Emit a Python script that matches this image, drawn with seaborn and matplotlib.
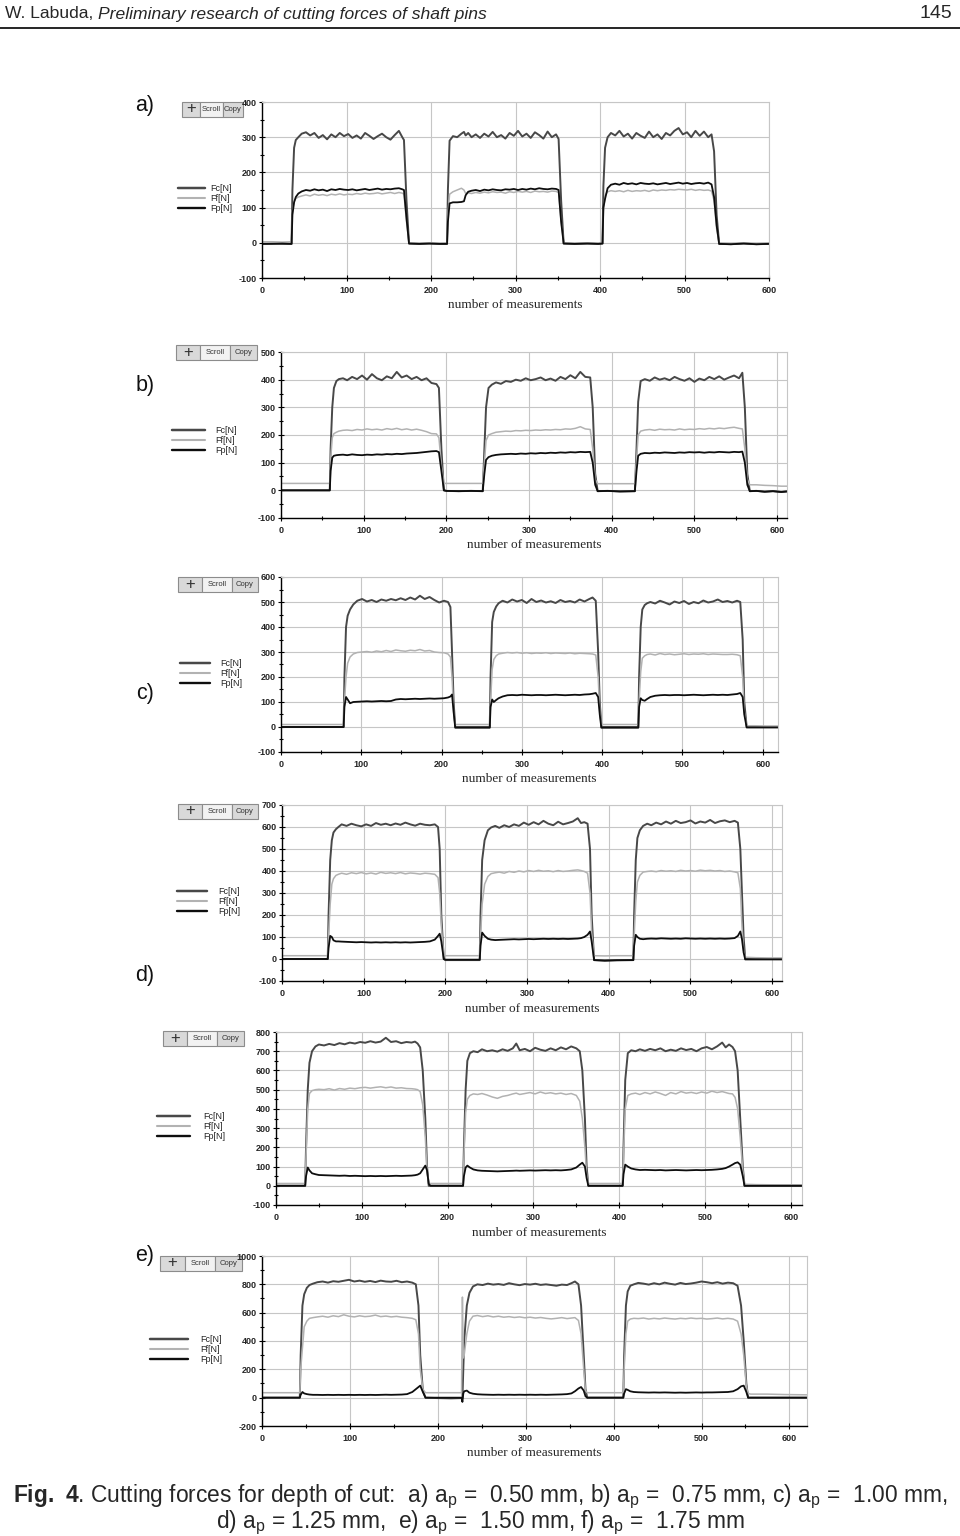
# Cutting forces Fc, Ff, Fp for six depths of cut (Fig. 4, Labuda)

import pandas as pd
import numpy as np
import matplotlib
matplotlib.use('Agg')
from matplotlib import pyplot as plt
from matplotlib import font_manager
from matplotlib.patches import Rectangle
from matplotlib.lines import Line2D
import seaborn as sns

series_names = ['Fc[N]', 'Ff[N]', 'Fp[N]']

# (a) ap = 0.50 mm
a_x = [0, 12, 24, 35, 36, 38, 40, 43, 47, 52,
       57, 62, 67, 72, 77, 82, 87, 92, 97, 102,
       107, 112, 117, 122, 127, 132, 137, 142, 147, 152,
       157, 162, 166, 168, 171, 174, 186, 198, 210, 219,
       220, 222, 226, 231, 236, 239, 241, 244, 248, 253,
       258, 263, 268, 273, 278, 283, 288, 293, 298, 303,
       308, 313, 318, 323, 328, 333, 338, 343, 348, 351,
       354, 357, 370, 385, 398, 403, 404, 406, 409, 413,
       418, 423, 428, 433, 438, 443, 448, 453, 458, 463,
       468, 473, 478, 483, 488, 493, 498, 503, 508, 513,
       518, 523, 528, 532, 535, 538, 541, 555, 570, 585,
       600]
a_fc = [-3, -2, -3, -3, 150, 270, 292, 300, 310, 314,
        305, 312, 298, 306, 294, 308, 300, 312, 303, 309,
        298, 305, 296, 312, 304, 295, 303, 310, 300, 293,
        306, 318, 300, 292, 120, -2, -3, -2, -3, -3,
        150, 290, 303, 300, 310, 315, 305, 312, 300, 308,
        298, 310, 302, 315, 300, 306, 296, 312, 304, 318,
        302, 310, 298, 314, 306, 296, 316, 300, 308, 295,
        120, -2, -3, -2, -3, -2, 160, 270, 300, 312,
        305, 318, 302, 310, 296, 312, 304, 298, 316, 300,
        308, 295, 312, 305, 318, 326, 308, 314, 300, 318,
        304, 316, 300, 308, 260, 80, -3, -4, -2, -4,
        -3]
a_ff = [3, 3, 2, 3, 90, 118, 126, 130, 133, 136,
        133, 138, 135, 137, 134, 138, 136, 139, 136, 138,
        137, 140, 138, 141, 139, 140, 142, 139, 141, 143,
        140, 143, 141, 138, 60, 0, -1, 0, -1, 0,
        80, 138, 145, 150, 155, 150, 140, 142, 140, 143,
        141, 144, 142, 145, 143, 144, 141, 145, 143, 146,
        144, 146, 143, 147, 145, 146, 144, 147, 146, 143,
        60, 0, -1, 0, -1, 0, 90, 135, 145, 148,
        146, 148, 145, 149, 146, 148, 147, 149, 146, 150,
        148, 150, 149, 151, 150, 152, 151, 150, 152, 149,
        151, 149, 150, 147, 120, 40, 0, -1, 0, -1,
        0]
a_fp = [-3, -3, -2, -3, 80, 115, 130, 140, 146, 150,
        148, 152, 149, 151, 147, 152, 150, 153, 151, 150,
        152, 149, 151, 153, 150, 152, 154, 151, 153, 152,
        154, 155, 152, 150, 70, -2, -3, -2, -3, -3,
        60, 112, 115, 115, 116, 118, 135, 145, 148, 150,
        147, 151, 149, 152, 150, 149, 152, 151, 153, 150,
        153, 151, 154, 152, 155, 153, 152, 154, 153, 150,
        60, -2, -3, -2, -3, -2, 100, 125, 155, 165,
        168, 165, 170, 167, 169, 166, 170, 168, 167, 169,
        166, 168, 170, 167, 169, 171, 168, 170, 167, 169,
        170, 168, 171, 166, 130, 50, -3, -4, -2, -4,
        -3]

# (b) ap = 0.75 mm
b_x = [0, 15, 30, 45, 59, 60, 62, 64, 67, 70,
       75, 80, 86, 92, 98, 104, 110, 116, 122, 128,
       134, 140, 146, 152, 158, 164, 170, 176, 182, 188,
       191, 194, 197, 200, 215, 230, 244, 246, 248, 251,
       255, 260, 266, 272, 278, 284, 290, 296, 302, 308,
       314, 320, 326, 332, 338, 344, 350, 356, 362, 368,
       374, 377, 380, 383, 395, 410, 428, 430, 432, 435,
       440, 446, 452, 458, 464, 470, 476, 482, 488, 494,
       500, 506, 512, 518, 524, 530, 536, 542, 548, 554,
       558, 561, 564, 567, 575, 585, 595, 605, 612]
b_fc = [0, 0, 0, 0, 0, 150, 300, 370, 395, 402,
        405, 398, 410, 402, 415, 400, 420, 405, 398, 412,
        405, 428, 408, 415, 402, 410, 398, 405, 388, 384,
        370, 150, 0, -2, -3, -2, -3, 150, 300, 370,
        382, 390, 385, 395, 392, 400, 396, 405, 398, 402,
        408, 398, 404, 396, 410, 402, 416, 405, 428, 410,
        408, 300, 60, -3, -2, -4, -3, 150, 320, 395,
        402, 396, 408, 400, 405, 398, 410, 402, 396, 405,
        392, 404, 398, 410, 402, 412, 400, 408, 415, 405,
        425, 300, 60, -3, -2, -5, -3, -6, -4]
b_ff = [25, 25, 25, 25, 25, 110, 190, 205, 210, 214,
        217, 218, 216, 220, 218, 222, 219, 221, 218, 223,
        220, 224, 219, 222, 218, 221, 217, 212, 205, 204,
        190, 90, 25, 25, 25, 25, 25, 100, 180, 200,
        205, 210, 212, 214, 213, 216, 215, 217, 216, 218,
        217, 219, 218, 220, 219, 222, 221, 224, 230, 222,
        220, 150, 40, 24, 24, 24, 24, 110, 200, 214,
        218, 220, 217, 221, 219, 220, 218, 222, 219, 221,
        220, 223, 221, 224, 222, 225, 223, 226, 228, 224,
        222, 150, 40, 20, 20, 18, 17, 15, 15]
b_fp = [0, 0, 0, 0, 0, 70, 118, 125, 127, 128,
        129, 127, 130, 128, 127, 129, 128, 130, 129, 131,
        130, 132, 131, 133, 134, 135, 137, 139, 141, 142,
        138, 70, 0, -2, -3, -2, -3, 60, 110, 120,
        125, 128, 130, 131, 132, 131, 133, 132, 134, 133,
        135, 134, 136, 135, 137, 136, 138, 137, 139, 138,
        139, 100, 20, -3, -2, -4, -3, 70, 125, 132,
        135, 134, 136, 135, 137, 136, 135, 137, 136, 138,
        137, 138, 136, 138, 137, 139, 138, 137, 139, 138,
        140, 100, 20, -3, -2, -5, -3, -6, -4]

# (c) ap = 1.00 mm
c_x = [0, 20, 40, 60, 78, 79, 81, 83, 86, 90,
       95, 101, 107, 113, 119, 125, 131, 137, 143, 149,
       155, 161, 167, 173, 179, 185, 191, 197, 203, 208,
       211, 213, 215, 217, 230, 245, 260, 261, 263, 265,
       268, 271, 276, 282, 288, 294, 300, 306, 312, 318,
       324, 330, 336, 342, 348, 354, 360, 366, 372, 378,
       384, 388, 392, 395, 397, 399, 410, 425, 445, 446,
       448, 450, 453, 456, 460, 466, 472, 478, 484, 490,
       496, 502, 508, 514, 520, 526, 532, 538, 544, 550,
       556, 562, 568, 572, 575, 577, 580, 590, 605, 619]
c_fc = [0, 0, 0, 0, 0, 200, 400, 445, 470, 490,
        505, 512, 502, 508, 500, 510, 505, 512, 507, 515,
        508, 518, 510, 525, 512, 520, 508, 498, 505, 500,
        480, 300, 100, 0, 0, 0, 0, 200, 420, 460,
        482, 495, 505, 498, 510, 502, 508, 496, 512, 500,
        506, 498, 503, 496, 508, 500, 504, 498, 510, 502,
        512, 518, 505, 300, 100, 0, 0, 0, 0, 200,
        400, 470, 488, 495, 500, 494, 505, 498, 490, 502,
        496, 504, 492, 500, 495, 506, 498, 502, 510, 500,
        504, 498, 505, 500, 350, 100, 0, 0, 0, 0]
c_ff = [10, 10, 10, 10, 10, 100, 200, 255, 280, 292,
        298, 300, 302, 299, 304, 301, 306, 302, 308, 305,
        303, 307, 305, 310, 304, 306, 300, 298, 297, 292,
        280, 200, 60, 10, 10, 10, 10, 100, 230, 270,
        285, 292, 295, 298, 296, 298, 295, 297, 294, 296,
        295, 297, 294, 296, 295, 294, 296, 293, 295, 294,
        293, 292, 288, 200, 60, 10, 10, 10, 10, 100,
        220, 275, 285, 290, 292, 288, 294, 290, 292, 289,
        291, 293, 290, 292, 291, 293, 290, 292, 291, 290,
        290, 291, 289, 285, 200, 60, 5, 5, 4, 4]
c_fp = [0, 0, 0, 0, 0, 80, 120, 110, 95, 100,
        101, 102, 103, 102, 103, 104, 103, 104, 110, 112,
        111, 112, 113, 112, 113, 114, 113, 114, 115, 118,
        122, 130, 60, -3, -3, -3, -3, 80, 110, 100,
        108, 115, 122, 127, 128, 127, 129, 128, 127, 128,
        128, 127, 128, 129, 128, 127, 128, 129, 128, 130,
        131, 133, 136, 120, 50, -3, -3, -3, -3, 80,
        115, 108, 105, 112, 120, 125, 127, 128, 127, 128,
        128, 127, 128, 129, 128, 127, 128, 129, 128, 129,
        128, 130, 132, 136, 120, 50, -2, -2, -2, -2]

# (d) ap = 1.25 mm
d_x = [0, 20, 40, 56, 57, 59, 61, 63, 66, 69,
       73, 79, 85, 91, 97, 103, 109, 115, 121, 127,
       133, 139, 145, 151, 157, 163, 169, 175, 181, 187,
       191, 193, 195, 198, 200, 215, 230, 242, 243, 245,
       248, 252, 256, 261, 266, 272, 278, 284, 290, 296,
       302, 308, 314, 320, 326, 332, 338, 344, 350, 356,
       362, 366, 370, 374, 377, 379, 382, 395, 410, 430,
       431, 433, 435, 438, 442, 447, 452, 458, 464, 470,
       476, 482, 488, 494, 500, 506, 512, 518, 524, 530,
       536, 542, 548, 554, 558, 561, 563, 565, 567, 580,
       595, 610, 619]
d_fc = [0, 0, 0, 0, 200, 450, 540, 575, 590, 600,
        612, 605, 615, 608, 603, 612, 605, 618, 610, 615,
        608, 616, 610, 620, 612, 606, 615, 610, 608, 612,
        600, 500, 200, 0, -5, -5, -5, -5, 200, 450,
        540, 585, 598, 605, 596, 608, 600, 612, 605, 620,
        610, 622, 612, 628, 615, 608, 624, 612, 618, 625,
        640, 618, 622, 615, 500, 200, -5, -6, -5, -5,
        200, 450, 550, 585, 605, 615, 608, 620, 612, 625,
        615, 628, 618, 622, 630, 616, 625, 620, 632, 618,
        626, 630, 622, 628, 620, 500, 300, 100, 0, 0,
        0, 0, 0]
d_ff = [15, 15, 15, 15, 100, 250, 340, 365, 380, 385,
        390, 385, 392, 388, 393, 387, 391, 386, 394, 389,
        392, 388, 393, 387, 391, 389, 386, 390, 388, 385,
        370, 300, 150, 15, 15, 15, 15, 15, 100, 250,
        340, 375, 388, 392, 395, 390, 398, 394, 400, 396,
        402, 398, 403, 399, 401, 397, 402, 398, 400, 403,
        405, 402, 398, 390, 300, 120, 15, 14, 15, 15,
        100, 260, 350, 380, 395, 398, 400, 397, 402, 399,
        401, 398, 403, 400, 402, 399, 404, 401, 403, 400,
        402, 398, 400, 396, 392, 320, 150, 40, 8, 6,
        5, 5, 5]
d_fp = [0, 0, 0, 0, 50, 105, 100, 85, 80, 80,
        79, 78, 77, 76, 77, 76, 75, 76, 75, 76,
        75, 76, 75, 76, 75, 76, 77, 78, 80, 88,
        105, 115, 80, 0, -3, -3, -3, -3, 60, 120,
        105, 92, 88, 86, 87, 88, 89, 90, 89, 90,
        91, 90, 91, 92, 91, 92, 91, 92, 91, 92,
        93, 95, 100, 110, 125, 80, -5, -8, -6, -5,
        60, 110, 100, 92, 90, 92, 93, 92, 94, 93,
        92, 93, 92, 94, 93, 92, 93, 92, 93, 92,
        93, 92, 93, 95, 105, 125, 90, 30, -2, -2,
        -2, -2, -2]

# (e) ap = 1.50 mm
e_x = [0, 15, 30, 34, 35, 37, 39, 42, 46, 50,
       56, 62, 68, 74, 80, 86, 92, 98, 104, 110,
       116, 122, 128, 134, 140, 146, 152, 158, 162, 165,
       168, 171, 174, 176, 178, 180, 195, 210, 218, 219,
       221, 223, 226, 230, 235, 240, 246, 252, 258, 264,
       270, 276, 280, 284, 290, 296, 302, 308, 314, 320,
       326, 332, 338, 344, 350, 354, 357, 360, 362, 364,
       380, 395, 404, 405, 407, 410, 414, 419, 424, 430,
       436, 442, 448, 454, 460, 466, 472, 478, 484, 490,
       496, 502, 508, 514, 520, 524, 528, 532, 535, 538,
       541, 544, 546, 560, 580, 600, 614]
e_fc = [0, 0, 0, 0, 200, 500, 640, 700, 725, 735,
        730, 738, 732, 742, 736, 745, 740, 748, 744, 752,
        745, 750, 770, 748, 752, 742, 748, 745, 750, 740,
        720, 600, 350, 100, 0, 0, 0, 0, 0, 200,
        500, 650, 690, 700, 695, 710, 700, 705, 698, 710,
        702, 715, 740, 705, 712, 700, 718, 708, 702, 715,
        705, 720, 710, 725, 715, 700, 600, 350, 100, 0,
        0, 0, 0, 200, 550, 690, 705, 700, 710, 702,
        712, 705, 715, 700, 708, 702, 715, 706, 712, 700,
        715, 722, 710, 725, 745, 720, 735, 722, 700, 600,
        350, 100, 0, 0, 0, 0, 0]
e_ff = [12, 12, 12, 12, 150, 400, 480, 495, 500, 502,
        500, 505, 498, 506, 502, 508, 505, 510, 512, 508,
        512, 515, 510, 514, 508, 510, 506, 505, 503, 500,
        490, 420, 250, 80, 12, 12, 12, 12, 12, 150,
        380, 450, 470, 478, 475, 480, 472, 462, 455, 465,
        470, 478, 482, 475, 480, 485, 478, 488, 480, 484,
        478, 482, 475, 480, 470, 440, 350, 200, 60, 12,
        12, 12, 12, 150, 400, 470, 478, 482, 475, 485,
        478, 488, 480, 470, 485, 478, 490, 482, 486, 480,
        488, 482, 492, 485, 490, 485, 480, 478, 460, 400,
        250, 80, 8, 6, 5, 5, 5]
e_fp = [0, 0, 0, 0, 50, 95, 80, 65, 60, 56,
        55, 54, 53, 52, 53, 51, 52, 51, 50, 51,
        50, 51, 50, 51, 52, 51, 52, 53, 55, 58,
        65, 85, 105, 80, 10, 0, 0, 0, 0, 50,
        95, 105, 95, 85, 80, 78, 77, 76, 75, 76,
        77, 78, 79, 78, 79, 80, 79, 80, 81, 80,
        81, 80, 82, 85, 95, 110, 120, 100, 40, 0,
        0, 0, 0, 60, 110, 100, 90, 85, 82, 83,
        82, 81, 82, 80, 81, 82, 81, 80, 81, 82,
        81, 82, 83, 85, 88, 92, 100, 110, 118, 122,
        110, 50, 0, 0, 0, 0, 0]

# (f) ap = 1.75 mm
f_x = [0, 15, 30, 43, 44, 46, 48, 51, 54, 58,
       63, 69, 75, 81, 87, 93, 99, 105, 111, 117,
       123, 129, 135, 141, 147, 153, 159, 165, 171, 175,
       178, 180, 183, 186, 200, 215, 227, 228, 229, 230,
       233, 236, 240, 245, 251, 257, 263, 269, 275, 281,
       287, 293, 299, 305, 311, 317, 323, 329, 335, 341,
       347, 352, 356, 360, 363, 366, 368, 370, 385, 400,
       411, 412, 414, 416, 419, 423, 428, 434, 440, 446,
       452, 458, 464, 470, 476, 482, 488, 494, 500, 506,
       512, 518, 524, 530, 536, 541, 545, 548, 551, 553,
       556, 575, 595, 620]
f_fc = [0, 0, 0, 0, 300, 650, 730, 775, 795, 805,
        815, 820, 812, 822, 818, 825, 832, 820, 826, 818,
        824, 816, 826, 820, 818, 825, 815, 820, 812, 800,
        650, 300, 50, 0, -3, -5, -3, -5, 200, 400,
        650, 740, 785, 800, 795, 805, 798, 802, 796, 808,
        800, 794, 802, 798, 804, 796, 800, 795, 790, 798,
        795, 808, 820, 800, 650, 300, 60, 0, 0, 0,
        0, 300, 650, 750, 790, 800, 810, 805, 798, 808,
        800, 812, 804, 798, 810, 802, 806, 812, 820, 815,
        808, 815, 805, 812, 808, 790, 650, 400, 100, 0,
        0, 0, 0, 0]
f_ff = [35, 35, 35, 35, 200, 350, 500, 540, 560, 565,
        570, 575, 568, 578, 572, 585, 575, 570, 578, 572,
        575, 583, 572, 576, 570, 574, 568, 565, 560, 550,
        450, 200, 60, 35, 35, 35, 35, 710, 280, 300,
        450, 540, 575, 580, 572, 578, 570, 575, 568, 572,
        566, 570, 564, 568, 562, 566, 560, 556, 560, 565,
        558, 562, 565, 545, 450, 200, 50, 35, 35, 35,
        35, 200, 450, 540, 555, 560, 558, 562, 555, 560,
        556, 562, 558, 555, 560, 557, 562, 558, 560, 555,
        558, 562, 556, 560, 555, 540, 450, 300, 80, 30,
        25, 25, 22, 20]
f_fp = [0, 0, 0, 0, 20, 40, 30, 25, 22, 20,
        20, 19, 20, 19, 20, 19, 20, 19, 20, 19,
        20, 19, 20, 21, 20, 21, 22, 25, 40, 60,
        75, 85, 40, 0, 0, 0, 0, -30, 30, 45,
        50, 35, 28, 24, 22, 21, 20, 21, 20, 21,
        20, 21, 20, 21, 20, 21, 20, 21, 22, 23,
        25, 30, 45, 65, 75, 50, 10, 0, 0, 0,
        0, 30, 60, 55, 45, 40, 38, 37, 36, 37,
        36, 37, 36, 35, 36, 35, 36, 37, 36, 37,
        37, 38, 39, 40, 45, 60, 80, 85, 40, 0,
        0, 0, 0, 0]

# Styling

sns.set_style('white')
names = {f.name for f in font_manager.fontManager.ttflist}
narrow = 'Liberation Sans Narrow' if 'Liberation Sans Narrow' in names else 'Liberation Sans'
plt.rcParams['font.family'] = ['Liberation Sans', 'DejaVu Sans']
plt.rcParams['mathtext.fontset'] = 'custom'
plt.rcParams['mathtext.rm'] = narrow
plt.rcParams['mathtext.bf'] = narrow + ':bold'

W, H = 960, 1536
fig = plt.figure(figsize=(9.6, 15.36), dpi=100)

palette = {'Fc[N]': '#484848', 'Ff[N]': '#b2b2b2', 'Fp[N]': '#0e0e0e'}
lws = {'Fc[N]': 1.4, 'Ff[N]': 1.1, 'Fp[N]': 1.3}


def rect(l, t, r, b):
    return [l / W, 1 - b / H, (r - l) / W, (b - t) / H]


def long_df(x, fc, ff, fp):
    return pd.DataFrame({'x': x * 3,
                         'F': fc + ff + fp,
                         'series': ['Fc[N]'] * len(fc) + ['Ff[N]'] * len(ff) + ['Fp[N]'] * len(fp)})


# Page decorations go on a full-page layer underneath the plots
over = fig.add_axes([0, 0, 1, 1], zorder=-1)
over.set_xlim(0, W)
over.set_ylim(H, 0)
over.axis('off')
over.patch.set_alpha(0)

# box = axes pixels (left, top, right, bottom), buttons = (left, top, width),
# legend = (line x0, line x1, text x, first row y)
panels = [
    dict(data=(a_x, a_fc, a_ff, a_fp), box=(262, 102, 769, 278), xmax=600, ylim=(-100, 400), ystep=100,
         buttons=(182, 102, 61), legend=(178, 205, 210, 190)),
    dict(data=(b_x, b_fc, b_ff, b_fp), box=(281, 352, 787, 518), xmax=612, ylim=(-100, 500), ystep=100,
         buttons=(176, 345, 81), legend=(172, 205, 215, 432)),
    dict(data=(c_x, c_fc, c_ff, c_fp), box=(281, 577, 778, 752), xmax=619, ylim=(-100, 600), ystep=100,
         buttons=(178, 577, 80), legend=(180, 210, 220, 665)),
    dict(data=(d_x, d_fc, d_ff, d_fp), box=(282, 805, 782, 981), xmax=612, ylim=(-100, 700), ystep=100,
         buttons=(178, 804, 80), legend=(177, 207, 218, 893)),
    dict(data=(e_x, e_fc, e_ff, e_fp), box=(276, 1032, 802, 1205), xmax=613, ylim=(-100, 800), ystep=100,
         buttons=(163, 1031, 81), legend=(157, 190, 203, 1118)),
    dict(data=(f_x, f_fc, f_ff, f_fp), box=(262, 1256, 807, 1426), xmax=620, ylim=(-200, 1000), ystep=200,
         buttons=(160, 1256, 82), legend=(150, 188, 200, 1341)),
]

for p in panels:
    ax = fig.add_axes(rect(*p['box']))
    df = long_df(*p['data'])
    sns.lineplot(data=df, x='x', y='F', hue='series', hue_order=series_names, palette=palette,
                 estimator=None, sort=False, legend=False, ax=ax)
    for line, s in zip(ax.lines, series_names):
        line.set_linewidth(lws[s])
    ax.set_xlim(0, p['xmax'])
    ax.set_ylim(*p['ylim'])
    xt = list(range(0, 601, 100))
    ax.set_xticks(xt, labels=[str(v) for v in xt], fontsize=6.5, fontweight='bold')
    ax.set_xticks(list(range(50, 601, 100)), minor=True)
    yt = list(range(p['ylim'][0], p['ylim'][1] + 1, p['ystep']))
    ax.set_yticks(yt, labels=[str(v) for v in yt], fontsize=6.5, fontweight='bold')
    ax.set_yticks(list(range(p['ylim'][0] + p['ystep'] // 2, p['ylim'][1], p['ystep'])), minor=True)
    ax.grid(True, which='major', color='#c6c6c6', lw=0.8)
    ax.set_axisbelow(True)
    for side in ['left', 'bottom']:
        ax.spines[side].set_color('black')
        ax.spines[side].set_linewidth(1.0)
    for side in ['top', 'right']:
        ax.spines[side].set_color('#c6c6c6')
        ax.spines[side].set_linewidth(0.8)
    ax.tick_params(which='both', bottom=True, left=True, direction='inout', width=0.8, color='black')
    ax.tick_params(axis='x', which='major', length=4, pad=4)
    ax.tick_params(axis='y', which='major', length=4, pad=2)
    ax.tick_params(which='minor', length=3)
    ax.set_xlabel('number of measurements', family='Liberation Serif', fontsize=9.5, labelpad=3)
    ax.set_ylabel('')

    # legend to the left of the plot
    x0, x1, tx, ty = p['legend']
    handles = [Line2D([], [], color=palette[s], lw=lws[s] + 0.4) for s in series_names]
    fs_px = 6.5 * 100 / 72
    ax.legend(handles, series_names, loc='upper left', frameon=False,
              bbox_to_anchor=(x0 / W, 1 - (ty - 6) / H), bbox_transform=fig.transFigure,
              fontsize=6.5, handlelength=(x1 - x0) / fs_px, handletextpad=(tx - x1) / fs_px,
              labelspacing=0.1, borderpad=0, borderaxespad=0)

t1 = over.text(5, 14, 'W. Labuda, ', fontsize=12.6, family=narrow, va='center', ha='left')
fig.canvas.draw()
bb = t1.get_window_extent(fig.canvas.get_renderer())
over.text(bb.x1, 14, 'Preliminary research of cutting forces of shaft pins', fontsize=12.6,
          family=narrow, style='italic', va='center', ha='left')
over.text(952, 13, '145', fontsize=14, family=narrow, va='center', ha='right')
over.plot([0, W], [28, 28], color='black', lw=1.2)

for p in panels:
    bl, bt, bw = p['buttons']
    bh = 15
    parts = [('+', 0.30, '#d9d9d9', 12), ('Scroll', 0.37, '#f2f2f2', 5.5), ('Copy', 0.33, '#d9d9d9', 5.5)]
    cx = bl
    for label, frac, fc, fs in parts:
        w = bw * frac
        over.add_patch(Rectangle((cx, bt), w, bh, facecolor=fc, edgecolor='#8c8c8c', lw=0.8))
        over.text(cx + w / 2, bt + bh / 2 + (0 if label != '+' else -0.5), label, fontsize=fs,
                  color='#333333', ha='center', va='center',
                  fontweight='light' if label == '+' else 'normal')
        cx += w

for lbl, (x, y) in zip(['a)', 'b)', 'c)', 'd)', 'e)'],
                       [(145, 105), (145, 385), (145, 693), (145, 975), (145, 1255)]):
    over.text(x, y, lbl, fontsize=15.5, ha='center', va='center', color='#111111')

cap1 = (r'$\mathbf{Fig.\ 4}$. Cutting forces for depth of cut:  a) a$_\mathrm{p}$ =  0.50 mm, '
        r'b) a$_\mathrm{p}$ =  0.75 mm, c) a$_\mathrm{p}$ =  1.00 mm,')
cap2 = (r'd) a$_\mathrm{p}$ = 1.25 mm,  e) a$_\mathrm{p}$ =  1.50 mm, f) a$_\mathrm{p}$ =  1.75 mm')
over.text(480, 1497, cap1, fontsize=16.4, family=narrow, ha='center', va='center')
over.text(480, 1523, cap2, fontsize=16.4, family=narrow, ha='center', va='center')

plt.savefig('out.png', dpi=100)
